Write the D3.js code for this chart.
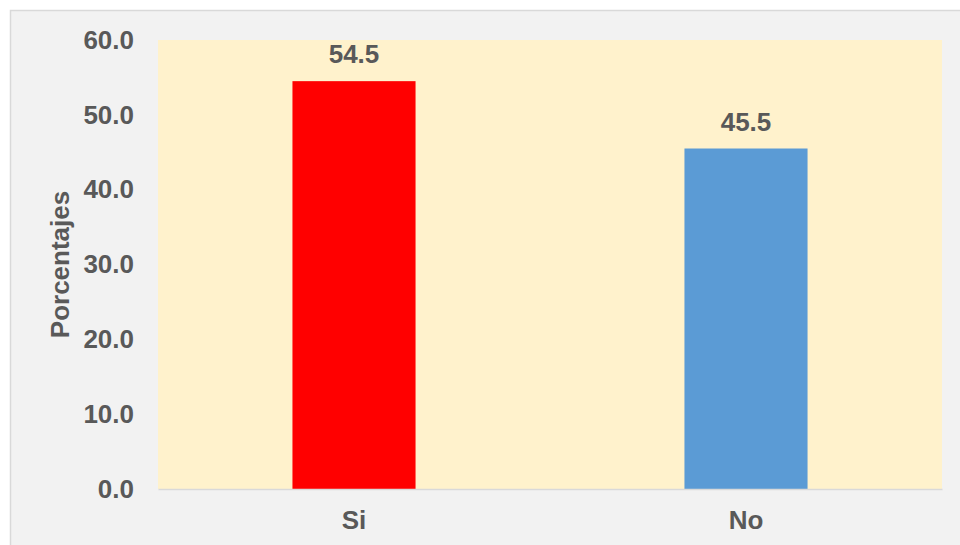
<!DOCTYPE html>
<html>
<head>
<meta charset="utf-8">
<script src="https://cdn.jsdelivr.net/npm/d3@7"></script>
<style>
  html, body { margin: 0; padding: 0; background: #ffffff; }
  svg { display: block; }
  text { font-family: "Liberation Sans", Arial, sans-serif; font-weight: bold; fill: #595959; }
</style>
</head>
<body>
<svg id="chart" width="960" height="545"></svg>
<script>
// Response categories and their percentages
const categories = ["Si", "No"];
const values = [54.5, 45.5];
const barColors = ["#ff0000", "#5b9bd5"];
const yTicks = [0, 10, 20, 30, 40, 50, 60];
const yTitle = "Porcentajes";

const W = 960, H = 545;
const plot = { left: 158, right: 942, top: 40, bottom: 489 };

const svg = d3.select("#chart");

// Chart area frame with light grey fill
svg.append("rect")
  .attr("x", 10.5).attr("y", 10.5)
  .attr("width", W).attr("height", H)
  .attr("fill", "#f2f2f2")
  .attr("stroke", "#d9d9d9")
  .attr("stroke-width", 1.5);

// Plot area background
svg.append("rect")
  .attr("x", plot.left).attr("y", plot.top)
  .attr("width", plot.right - plot.left)
  .attr("height", plot.bottom - plot.top)
  .attr("fill", "#fff2cc");

const x = d3.scaleBand()
  .domain(categories)
  .range([plot.left, plot.right])
  .paddingInner(0.686)
  .paddingOuter(0.343);

const y = d3.scaleLinear()
  .domain([0, 60])
  .range([plot.bottom, plot.top]);

// Bars
svg.append("g")
  .selectAll("rect")
  .data(values)
  .join("rect")
  .attr("x", (d, i) => x(categories[i]))
  .attr("y", d => y(d))
  .attr("width", x.bandwidth())
  .attr("height", d => y(0) - y(d))
  .attr("fill", (d, i) => barColors[i]);

// Value labels above bars
svg.append("g")
  .selectAll("text")
  .data(values)
  .join("text")
  .attr("x", (d, i) => x(categories[i]) + x.bandwidth() / 2)
  .attr("y", d => y(d) - 18)
  .attr("text-anchor", "middle")
  .attr("font-size", 26)
  .text(d => d.toFixed(1));

// Y axis (labels only)
const yAxis = d3.axisLeft(y)
  .tickValues(yTicks)
  .tickFormat(d => d.toFixed(1))
  .tickSize(0)
  .tickPadding(24);

const gy = svg.append("g")
  .attr("transform", `translate(${plot.left},0)`)
  .call(yAxis);
gy.select(".domain").remove();
gy.selectAll("text")
  .attr("font-size", 26)
  .attr("font-family", null)
  .attr("fill", null);

// X axis with light baseline
const xAxis = d3.axisBottom(x).tickSize(0).tickPadding(22);
const gx = svg.append("g")
  .attr("transform", `translate(0,${plot.bottom})`)
  .call(xAxis);
gx.select(".domain")
  .attr("stroke", "#d9d9d9")
  .attr("stroke-width", 1.5);
gx.selectAll("text")
  .attr("font-size", 26)
  .attr("font-family", null)
  .attr("fill", null);

// Y axis title
svg.append("text")
  .attr("transform", `translate(69,${(plot.top + plot.bottom) / 2}) rotate(-90)`)
  .attr("text-anchor", "middle")
  .attr("font-size", 26)
  .text(yTitle);
</script>
</body>
</html>
